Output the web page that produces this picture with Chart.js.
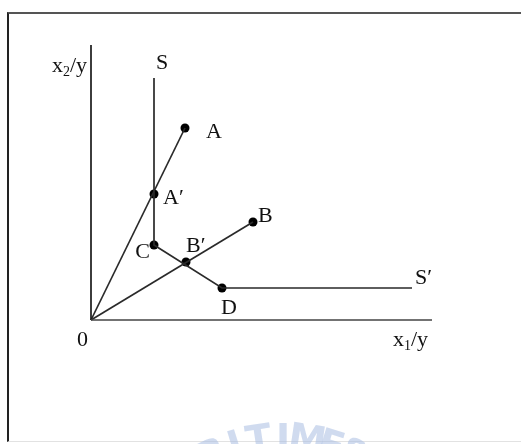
<!DOCTYPE html>
<html>
<head>
<meta charset="utf-8">
<script src="https://cdn.jsdelivr.net/npm/chart.js@4"></script>
<style>
  html, body { margin: 0; padding: 0; background: #fff; }
  #wrap { position: relative; width: 521px; height: 444px; overflow: hidden; }
  #marco { position: absolute; left: 7px; top: 12px; right: -2px; bottom: 2px;
           border-top: 2px solid #555; border-left: 2px solid #222; border-bottom: 1px solid #e2e2e2; }
  canvas { position: absolute; left: 0; top: 0; }
</style>
</head>
<body>
<div id="wrap">
  <div id="marco"></div>
  <canvas id="grafico" width="521" height="444"></canvas>
</div>
<script>
// pontos marcados (unidades do grafico: origem em 0,0)
const nomesPontos = ['A', 'A\u2032', 'B', 'B\u2032', 'C', 'D'];
const pontosX = [9.4, 6.3, 16.2, 9.5, 6.3, 13.1];
const pontosY = [19.2, 12.6, 9.8, 5.8, 7.5, 3.2];

// isoquanta S ... S'
const isoquantaX = [6.3, 6.3, 13.1, 32.1];
const isoquantaY = [24.2, 7.5, 3.2, 3.2];

// raios saindo da origem ate A e B
const raioAX = [0, 9.4];
const raioAY = [0, 19.2];
const raioBX = [0, 16.2];
const raioBY = [0, 9.8];

// eixos
const eixoXX = [0, 34.1];
const eixoXY = [0, 0];
const eixoYX = [0, 0];
const eixoYY = [0, 27.5];

const corLinha = '#2a2a2a';

function juntar(xs, ys) {
    return xs.map((x, i) => ({ x: x, y: ys[i] }));
}

function serieLinha(xs, ys, cor) {
    return {
        data: juntar(xs, ys),
        showLine: true,
        borderColor: cor || corLinha,
        borderWidth: 1.7,
        pointRadius: 0,
        fill: false,
        tension: 0,
    };
}

// deslocamentos dos rotulos em pixels
const rotulosPontos = {
    'A': { dx: 21, dy: 10, align: 'left' },
    'A\u2032': { dx: 9, dy: 10, align: 'left' },
    'B': { dx: 5, dy: 0, align: 'left' },
    'B\u2032': { dx: 0, dy: -10, align: 'left' },
    'C': { dx: -4, dy: 13, align: 'right' },
    'D': { dx: -1, dy: 26, align: 'left' },
};

const fonteRotulo = '22px "Liberation Serif", "Times New Roman", serif';
const fonteSub = '14px "Liberation Serif", "Times New Roman", serif';

function desenharTexto(ctx, partes, x, y, align) {
    let largura = 0;
    partes.forEach(p => {
        ctx.font = p.sub ? fonteSub : fonteRotulo;
        largura += ctx.measureText(p.t).width;
    });
    let cx = x;
    if (align === 'right') cx = x - largura;
    if (align === 'center') cx = x - largura / 2;
    partes.forEach(p => {
        ctx.font = p.sub ? fonteSub : fonteRotulo;
        ctx.textAlign = 'left';
        ctx.textBaseline = 'alphabetic';
        ctx.fillText(p.t, cx, p.sub ? y + 4 : y);
        cx += ctx.measureText(p.t).width;
    });
}

const pluginRotulos = {
    id: 'rotulos',
    afterDatasetsDraw(chart) {
        const ctx = chart.ctx;
        const sx = chart.scales.x;
        const sy = chart.scales.y;
        ctx.save();
        ctx.fillStyle = '#111';

        nomesPontos.forEach((nome, i) => {
            const o = rotulosPontos[nome];
            const px = sx.getPixelForValue(pontosX[i]);
            const py = sy.getPixelForValue(pontosY[i]);
            desenharTexto(ctx, [{ t: nome }], px + o.dx, py + o.dy, o.align);
        });

        const n = isoquantaX.length - 1;
        desenharTexto(ctx, [{ t: 'S' }],
            sx.getPixelForValue(isoquantaX[0]) + 8, sy.getPixelForValue(isoquantaY[0]) - 9, 'center');
        desenharTexto(ctx, [{ t: 'S\u2032' }],
            sx.getPixelForValue(isoquantaX[n]) + 3, sy.getPixelForValue(isoquantaY[n]) - 4, 'left');

        const ox = sx.getPixelForValue(0);
        const oy = sy.getPixelForValue(0);
        desenharTexto(ctx, [{ t: '0' }], ox - 3, oy + 26, 'right');
        desenharTexto(ctx, [{ t: 'x' }, { t: '2', sub: true }, { t: '/y' }],
            ox - 4, sy.getPixelForValue(eixoYY[1]) + 27, 'right');
        desenharTexto(ctx, [{ t: 'x' }, { t: '1', sub: true }, { t: '/y' }],
            sx.getPixelForValue(eixoXX[1]) - 4, oy + 26, 'right');
        ctx.restore();
    }
};

// marca d'agua apagada no rodape
const pluginMarca = {
    id: 'marca',
    beforeDatasetsDraw(chart) {
        const ctx = chart.ctx;
        const letras = ['R', 'I', 'T', 'I', 'M', 'E', '&'];
        const cx = 283, cy = 600, r = 150;
        ctx.save();
        ctx.fillStyle = 'rgba(170, 190, 225, 0.55)';
        ctx.font = 'bold 38px "DejaVu Sans", sans-serif';
        ctx.textAlign = 'center';
        ctx.textBaseline = 'alphabetic';
        letras.forEach((l, i) => {
            const ang = (i - 3) * 0.15;
            ctx.save();
            ctx.translate(cx + r * Math.sin(ang), cy - r * Math.cos(ang));
            ctx.rotate(ang);
            ctx.fillText(l, 0, 0);
            ctx.restore();
        });
        ctx.restore();
    }
};

const contexto = document.getElementById('grafico').getContext('2d');

new Chart(contexto, {
    type: 'scatter',
    data: {
        datasets: [
            serieLinha(eixoXX, eixoXY, '#444'),
            serieLinha(eixoYX, eixoYY, '#1a1a1a'),
            serieLinha(raioAX, raioAY),
            serieLinha(raioBX, raioBY),
            serieLinha(isoquantaX, isoquantaY),
            {
                data: juntar(pontosX, pontosY),
                showLine: false,
                pointRadius: 4.5,
                pointBackgroundColor: '#000',
                pointBorderColor: '#000',
                pointBorderWidth: 0,
            },
        ],
    },
    options: {
        responsive: false,
        animation: false,
        devicePixelRatio: 1,
        layout: { padding: 0, autoPadding: false },
        plugins: {
            legend: { display: false },
            tooltip: { enabled: false },
        },
        scales: {
            x: { type: 'linear', min: -9.1, max: 43.0, display: false },
            y: { type: 'linear', min: -12.4, max: 32.0, display: false },
        },
    },
    plugins: [pluginMarca, pluginRotulos],
});
</script>
</body>
</html>
